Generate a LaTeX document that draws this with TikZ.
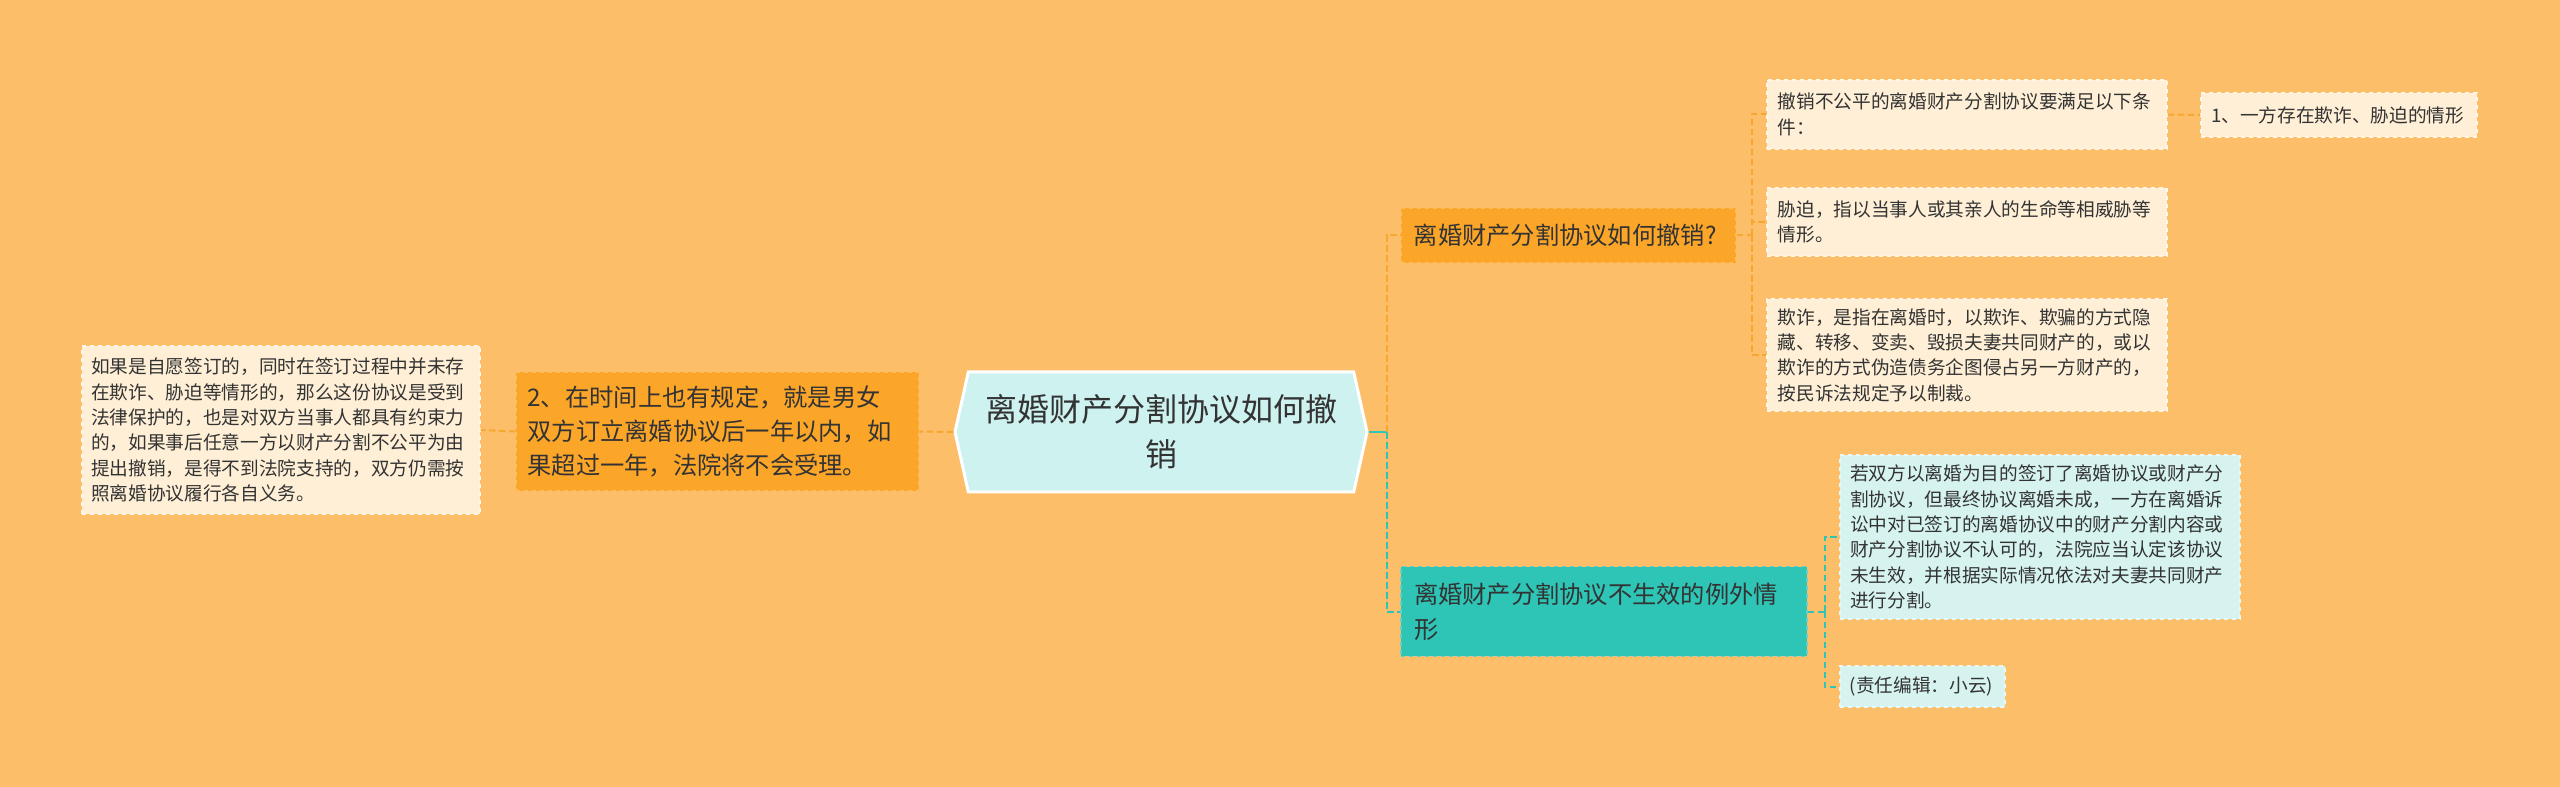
\documentclass[tikz,border=0pt]{standalone}
\usepackage{fontspec}
\newfontfamily\cjk{Noto Sans CJK SC}
\usepackage{tikz}
\usetikzlibrary{shapes.symbols}
\definecolor{bgorange}{RGB}{253,190,106}
\definecolor{mainorange}{RGB}{252,166,41}
\definecolor{mainteal}{RGB}{46,196,182}
\definecolor{rootcyan}{RGB}{205,242,239}
\definecolor{leafcream}{RGB}{254,239,214}
\definecolor{leafcyan}{RGB}{214,243,240}
\definecolor{txtgray}{RGB}{51,51,51}
\definecolor{linkorange}{RGB}{247,166,48}
\tikzset{
  rootbox/.style={signal, signal to=east and west, signal pointer angle=155,
                  draw=white, line width=2.25pt, fill=rootcyan, inner sep=0pt,
                  minimum width=309pt, minimum height=90pt, align=center,
                  text=txtgray, font=\cjk\fontsize{24}{34}\selectfont},
  topicO/.style={rectangle, draw=white!25!mainorange, dashed, line width=1pt,
                 fill=mainorange, inner sep=0pt, align=left, text=txtgray,
                 font=\cjk\fontsize{18.2}{25.5}\selectfont},
  topicT/.style={rectangle, draw=white!25!mainteal, dashed, line width=1pt,
                 fill=mainteal, inner sep=0pt, align=left, text=txtgray,
                 font=\cjk\fontsize{18.2}{26.5}\selectfont},
  leafC/.style={rectangle, draw=white!50!leafcream, dashed, line width=1pt,
                fill=leafcream, inner sep=0pt, align=left, text=txtgray,
                font=\cjk\fontsize{14}{19}\selectfont},
  leafT/.style={rectangle, draw=white!50!leafcyan, dashed, line width=1pt,
                fill=leafcyan, inner sep=0pt, align=left, text=txtgray,
                font=\cjk\fontsize{14}{19}\selectfont},
  linkO/.style={draw=linkorange, line width=1.5pt, dash pattern=on 5pt off 2.5pt},
  linkT/.style={draw=mainteal, line width=1.5pt, dash pattern=on 5pt off 2.5pt},
}
\begin{document}
\begin{tikzpicture}[x=0.75pt, y=-0.75pt]
  \fill[bgorange] (0,0) rectangle (2560,787);
  \useasboundingbox (0,0) rectangle (2560,787);
  % Central topic
  \node[rootbox] (root) at (1161,432) {离婚财产分割协议如何撤\\销};
  % Left branch
  \node[topicO, minimum width=302pt, minimum height=89pt, text width=285pt]
        (timelimit) at (717.5,431.5)
        {2、在时间上也有规定，就是男女\\双方订立离婚协议后一年以内，如\\果超过一年，法院将不会受理。};
  \node[leafC, minimum width=298.5pt, minimum height=126pt, text width=285pt]
        (voluntary) at (281,430)
        {如果是自愿签订的，同时在签订过程中并未存\\在欺诈、胁迫等情形的，那么这份协议是受到\\法律保护的，也是对双方当事人都具有约束力\\的，如果事后任意一方以财产分割不公平为由\\提出撤销，是得不到法院支持的，双方仍需按\\照离婚协议履行各自义务。};
  % Right branch, top
  \node[topicO, minimum width=251pt, minimum height=41pt, text width=232pt]
        (howto) at (1568.5,235.5) {离婚财产分割协议如何撤销?};
  \node[leafC, minimum width=300pt, minimum height=51.75pt, text width=284pt]
        (cond) at (1967,114.5) {撤销不公平的离婚财产分割协议要满足以下条\\件：};
  \node[leafC, minimum width=207pt, minimum height=33pt, text width=192pt]
        (condone) at (2339,115) {1、一方存在欺诈、胁迫的情形};
  \node[leafC, minimum width=300pt, minimum height=51pt, text width=284pt]
        (duress) at (1967,222) {胁迫，指以当事人或其亲人的生命等相威胁等\\情形。};
  \node[leafC, minimum width=300pt, minimum height=84pt, text width=284pt]
        (fraud) at (1967,355)
        {欺诈，是指在离婚时，以欺诈、欺骗的方式隐\\藏、转移、变卖、毁损夫妻共同财产的，或以\\欺诈的方式伪造债务企图侵占另一方财产的，\\按民诉法规定予以制裁。};
  % Right branch, bottom
  \node[topicT, minimum width=304.5pt, minimum height=67pt, text width=285pt]
        (except) at (1604,611.5) {离婚财产分割协议不生效的例外情\\形};
  \node[leafT, minimum width=300pt, minimum height=123pt, text width=285pt]
        (voidcase) at (2040,537)
        {若双方以离婚为目的签订了离婚协议或财产分\\割协议，但最终协议离婚未成，一方在离婚诉\\讼中对已签订的离婚协议中的财产分割内容或\\财产分割协议不认可的，法院应当认定该协议\\未生效，并根据实际情况依法对夫妻共同财产\\进行分割。};
  \node[leafT, minimum width=123.75pt, minimum height=30.75pt, text width=109pt]
        (editor) at (1922.5,686.5) {(责任编辑：小云)};
  % Connectors
  \draw[draw=mainteal, line width=1.5pt] (root.east) -- ++(18,0) coordinate (rootjoin);
  \draw[linkO] (rootjoin) |- (howto.west);
  \draw[linkT] (rootjoin) |- (except.west);
  \draw[linkO] (root.west) -- (timelimit.east);
  \draw[linkO] (timelimit.west) -- (voluntary.east);
  \draw[linkO] (howto.east) -- ++(15,0) coordinate (howjoin);
  \draw[linkO] (howjoin) |- (cond.west);
  \draw[linkO] (howjoin) |- (duress.west);
  \draw[linkO] (howjoin) |- (fraud.west);
  \draw[linkO] (cond.east) -- (condone.west);
  \draw[linkT] (except.east) -- ++(17,0) coordinate (excjoin);
  \draw[linkT] (excjoin) |- (voidcase.west);
  \draw[linkT] (excjoin) |- (editor.west);
\end{tikzpicture}
\end{document}
